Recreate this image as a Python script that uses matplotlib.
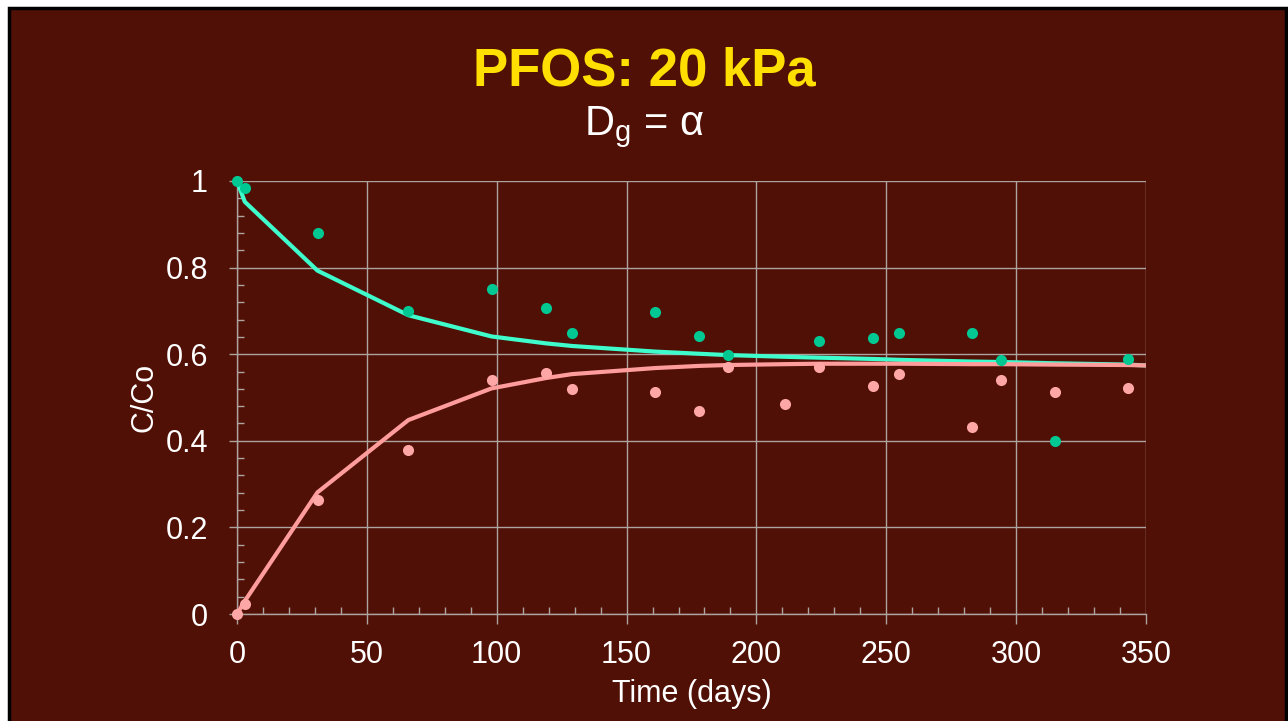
import matplotlib.pyplot as plt
from matplotlib.patches import Rectangle
from matplotlib.ticker import MultipleLocator

plt.rcParams['font.family'] = ['Liberation Sans', 'DejaVu Sans']

# measured C/Co data (days)
t_gas = [0, 3, 31, 66, 98, 119, 129, 161, 178, 189, 224, 245, 255, 283, 294, 315, 343]
c_gas = [1.0, 0.984, 0.88, 0.70, 0.75, 0.707, 0.649, 0.697, 0.642, 0.598, 0.631,
         0.637, 0.650, 0.650, 0.587, 0.400, 0.589]

t_liq = [0, 3, 31, 66, 98, 119, 129, 161, 178, 189, 211, 224, 245, 255, 283, 294, 315, 343]
c_liq = [0.0, 0.023, 0.263, 0.379, 0.540, 0.557, 0.520, 0.512, 0.469, 0.571, 0.486,
         0.571, 0.527, 0.555, 0.431, 0.540, 0.512, 0.522]

# model curves
t_model = [0, 3, 31, 66, 98, 119, 129, 161, 178, 189, 211, 224, 245, 255, 283, 294, 315, 343, 350]
gas_model = [1.0, 0.952, 0.793, 0.690, 0.641, 0.625, 0.619, 0.606, 0.601, 0.598, 0.594,
             0.592, 0.589, 0.587, 0.583, 0.582, 0.579, 0.576, 0.574]
liq_model = [0.0, 0.03, 0.281, 0.448, 0.521, 0.545, 0.554, 0.568, 0.573, 0.575, 0.577,
             0.578, 0.578, 0.578, 0.577, 0.577, 0.576, 0.575, 0.574]

bg = '#501005'
grid_c = '#ada3a0'

fig = plt.figure(figsize=(12.88, 7.21), dpi=100, facecolor='white')
# slide frame
fig.patches.append(Rectangle((8.5 / 1288, -0.05), 1277 / 1288, 1.05 - 8.5 / 721,
                             transform=fig.transFigure, facecolor=bg,
                             edgecolor='black', linewidth=2.5, zorder=-5))

ax = fig.add_axes([237 / 1288, 1 - 614 / 721, 909 / 1288, 433 / 721])
ax.set_zorder(2)
ax.set_facecolor(bg)

ax.plot(t_model, gas_model, color='#3ffccc', lw=3, zorder=3)
ax.plot(t_model, liq_model, color='#ff9c9c', lw=3, zorder=4)
ax.plot(t_gas, c_gas, 'o', color='#00c893', ms=8, mec='none', zorder=5, clip_on=False)
ax.plot(t_liq, c_liq, 'o', color='#ffa6a6', ms=8, mec='none', zorder=5, clip_on=False)

ax.set_xlim(0, 350)
ax.set_ylim(0, 1)
ax.xaxis.set_major_locator(MultipleLocator(50))
ax.xaxis.set_minor_locator(MultipleLocator(10))
ax.yaxis.set_major_locator(MultipleLocator(0.2))
ax.yaxis.set_minor_locator(MultipleLocator(0.04))
ax.yaxis.set_major_formatter(plt.FuncFormatter(lambda v, p: f'{v:g}'))

ax.grid(True, which='major', color=grid_c, lw=1)
for s in ['top', 'right']:
    ax.spines[s].set_visible(False)
for s in ['left', 'bottom']:
    ax.spines[s].set_color(grid_c)
    ax.spines[s].set_linewidth(1)

ax.tick_params(axis='x', which='major', direction='out', length=7, width=1,
               color=grid_c, labelcolor='white', labelsize=22, pad=12)
ax.tick_params(axis='x', which='minor', direction='in', length=5, width=1, color=grid_c)
ax.tick_params(axis='y', which='major', direction='out', length=6, width=1,
               color=grid_c, labelcolor='white', labelsize=22, pad=15)
ax.tick_params(axis='y', which='minor', direction='in', length=5, width=1, color=grid_c)

ax.set_xlabel('Time (days)', color='white', fontsize=22, labelpad=6.5)
ax.set_ylabel('C/Co', color='white', fontsize=22, labelpad=4)

fig.text(0.5, 1 - 71 / 721, 'PFOS: 20 kPa', color='#ffdf00', fontsize=38,
         fontweight='bold', ha='center', va='center')
fig.text(0.5, 1 - 127 / 721, r'D$_\mathregular{g}$ = α', color='white', fontsize=30,
         ha='center', va='center')

fig.savefig('out.png', dpi=100, facecolor=fig.get_facecolor())
